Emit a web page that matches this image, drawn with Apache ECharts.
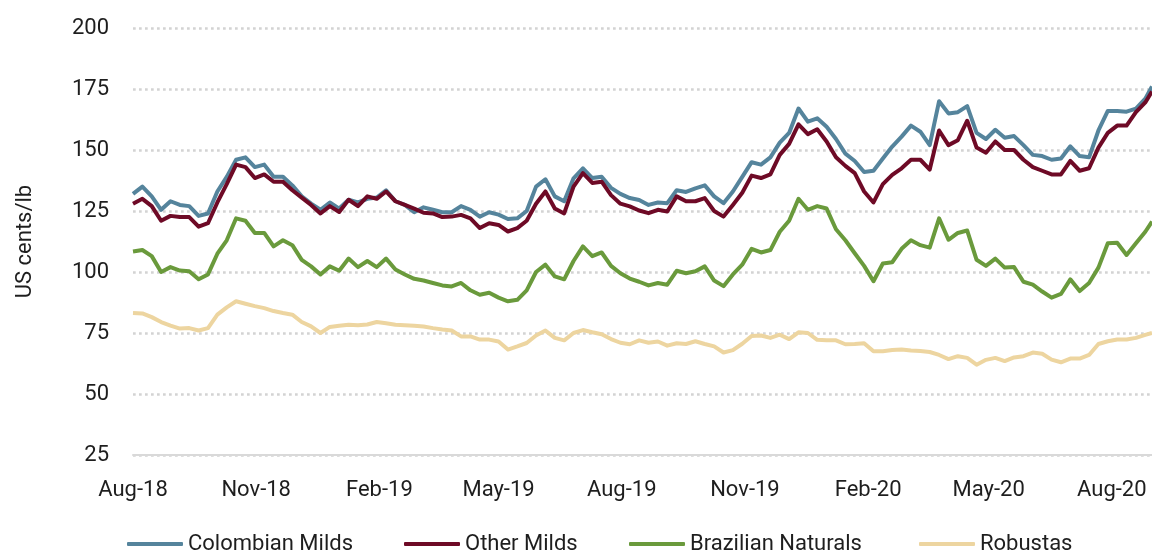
<!DOCTYPE html>
<html>
<head>
<meta charset="utf-8">
<script src="https://cdn.jsdelivr.net/npm/echarts@6/dist/echarts.min.js"></script>
<style>
  html, body { margin: 0; padding: 0; background: #fff; }
  #chart { width: 1152px; height: 553px; }
</style>
</head>
<body>
<div id="chart"></div>
<script>
// weekly readings starting 1 Aug 2018, last reading 31 Aug 2020
const startDay = '2018-08-01'
const endDay = '2020-08-31'

const colombianMilds = [
  132, 135, 131, 125.5, 129, 127.5, 127, 123, 124, 133, 139, 146, 147, 143, 144, 139, 139, 135.5, 131, 128, 125.5, 128.5,
  126, 129.6, 128.5, 130, 130.5, 133.5, 129, 127.5, 124.5, 126.5, 125.5, 124.5, 124.5, 127, 125.5, 122.7, 124.5, 123.5, 121.7, 122, 125, 135,
  138, 131, 129, 138.4, 142.5, 138.5, 139, 134.5, 132, 130.3, 129.5, 127.5, 128.5, 128.2, 133.5, 132.8, 134.3, 135.5, 131, 128.2, 133, 139,
  145, 144, 147, 153, 157, 167, 161.6, 163, 159.5, 154.5, 148.5, 145.5, 141, 141.5, 146.5, 151.4, 155.5, 160, 157.5, 152, 170, 165,
  165.5, 168, 157, 154.5, 158.3, 155, 155.7, 152, 148, 147.5, 146, 146.5, 151.5, 147.5, 147, 158, 166, 166, 165.7, 167, 171,
  176
]
const otherMilds = [
  128, 130, 127, 121, 123, 122.5, 122.5, 118.6, 120, 128.5, 136, 144, 143, 138.5, 140, 137, 137, 133.5, 130.5, 127.5, 124, 127,
  124.6, 129.6, 127, 131, 130, 133, 129, 127.5, 126, 124.3, 124, 122.5, 122.7, 123.4, 122, 118, 120, 119.3, 116.6, 118, 121, 128,
  133, 126, 124, 135, 140.5, 136.5, 137, 131.5, 128, 126.9, 125.2, 124.1, 125.5, 124.8, 131, 129, 129, 130.3, 125, 122.7, 127.5, 132.5,
  139.5, 138.5, 140, 148, 152.5, 160.5, 156.5, 158.5, 153.5, 147, 143.5, 140.5, 133, 128.5, 136, 139.8, 142.5, 146, 146, 142, 158, 152,
  154, 162, 151, 148.9, 153.5, 150, 150, 146, 143, 141.5, 140, 140, 145.5, 141.5, 142.5, 151, 157, 160, 160, 165.5, 169.5,
  174
]
const brazilianNaturals = [
  108.4, 109, 106.5, 100, 102, 100.6, 100.3, 97, 99, 107.5, 113, 122, 121, 116, 116, 110.5, 113, 111, 105, 102.3, 99, 102.3,
  100.5, 105.5, 102, 104.5, 102, 105.5, 101, 99, 97.2, 96.5, 95.5, 94.5, 94.1, 95.5, 92.5, 90.7, 91.5, 89.5, 88, 88.6, 92.5, 100,
  103, 98.2, 97, 104.5, 110.5, 106.5, 108, 102.5, 99.5, 97.3, 96, 94.5, 95.5, 94.8, 100.5, 99.5, 100.3, 102.3, 96.5, 94.2, 99, 103,
  109.5, 108, 109, 116.5, 121, 130, 125.5, 127, 126, 117.5, 113, 107.7, 102.5, 96.2, 103.5, 104, 109.5, 113, 111, 110, 122, 113.2,
  116, 117, 105, 102.5, 105.5, 101.8, 102, 96, 94.8, 92, 89.5, 91, 97, 92.2, 95.5, 101.8, 111.8, 112, 107, 111.8, 116.5,
  120.7
]
const robustas = [
  83.2, 83, 81.5, 79.5, 78, 76.8, 77, 76, 77, 82.5, 85.5, 88, 87, 86, 85.2, 84, 83.2, 82.5, 79.5, 77.7, 75, 77.5,
  78, 78.4, 78.2, 78.5, 79.5, 79, 78.4, 78.2, 78, 77.7, 77, 76.4, 76, 73.6, 73.6, 72.3, 72.3, 71.5, 68.2, 69.5, 70.9, 74,
  76, 73, 72, 75, 76.2, 75.3, 74.5, 72.5, 71, 70.4, 72, 71, 71.5, 69.8, 70.8, 70.5, 71.6, 70.5, 69.5, 67, 68, 70.6,
  73.8, 74, 73, 74.3, 72.5, 75.3, 75, 72.2, 72, 72, 70.4, 70.5, 70.8, 67.5, 67.5, 68, 68.2, 67.8, 67.6, 67.2, 66, 64.3,
  65.5, 64.8, 62, 64, 64.8, 63.5, 65, 65.5, 67, 66.5, 64.1, 63, 64.5, 64.5, 66, 70.5, 71.6, 72.3, 72.3, 73, 74.2,
  75
]

const seriesNames = ['Colombian Milds', 'Other Milds', 'Brazilian Naturals', 'Robustas']
const tickLabels = ['Aug-18', 'Nov-18', 'Feb-19', 'May-19', 'Aug-19', 'Nov-19', 'Feb-20', 'May-20', 'Aug-20']
const tickDays = ['2018-08-01', '2018-11-01', '2019-02-01', '2019-05-01', '2019-08-01', '2019-11-01', '2020-02-01', '2020-05-01', '2020-08-01']

const DAY = 86400000
const t0 = Date.parse(startDay)
const tEnd = Date.parse(endDay)
const dates = colombianMilds.map((_, i) => i === colombianMilds.length - 1 ? tEnd : t0 + i * 7 * DAY)
const tickTimes = tickDays.map(d => Date.parse(d))
const pair = arr => arr.map((v, i) => [dates[i], v])

const font = 'Roboto'
const textColor = '#1e1e1e'

const chart = echarts.init(document.getElementById('chart'))

function line (name, data, color) {
  return {
    name: name,
    type: 'line',
    data: pair(data),
    symbol: 'none',
    lineStyle: {color: color, width: 4, join: 'round'},
    itemStyle: {color: color},
    emphasis: {disabled: true},
    z: 2
  }
}

// one legend per key so each sits where it does in the original
const legendLeft = [127, 404, 629, 919]
const legends = seriesNames.map((name, i) => ({
  left: legendLeft[i],
  top: 533,
  padding: 0,
  itemWidth: 56,
  itemHeight: 4,
  icon: 'roundRect',
  data: [name],
  textStyle: {fontFamily: font, fontSize: 22, color: textColor}
}))

chart.setOption({
  animation: false,
  backgroundColor: '#fff',
  grid: {left: 133, right: 0, top: 28, bottom: 98, containLabel: false, outerBoundsMode: 'none'},
  legend: legends,
  xAxis: {
    type: 'value',
    min: t0,
    max: tEnd,
    splitLine: {show: false},
    axisTick: {show: false},
    axisLine: {show: true, lineStyle: {color: '#d9d9d9', width: 2}},
    axisLabel: {
      customValues: tickTimes,
      formatter: v => tickLabels[tickTimes.indexOf(v)] || '',
      margin: 24,
      fontFamily: font,
      fontSize: 22,
      color: textColor
    }
  },
  yAxis: {
    type: 'value',
    min: 25,
    max: 200,
    interval: 25,
    name: 'US cents/lb',
    nameLocation: 'middle',
    nameGap: 97,
    nameTextStyle: {fontFamily: font, fontSize: 22, color: textColor},
    axisLine: {show: false},
    axisTick: {show: false},
    splitLine: {lineStyle: {color: '#d3d3d3', width: 2.7, type: [2.7, 3.3]}},
    axisLabel: {margin: 24, fontFamily: font, fontSize: 22, color: textColor}
  },
  series: [
    line(seriesNames[0], colombianMilds, '#55849c'),
    line(seriesNames[1], otherMilds, '#6e0a26'),
    line(seriesNames[2], brazilianNaturals, '#6a9a3c'),
    line(seriesNames[3], robustas, '#edd5a0')
  ]
})
</script>
</body>
</html>
